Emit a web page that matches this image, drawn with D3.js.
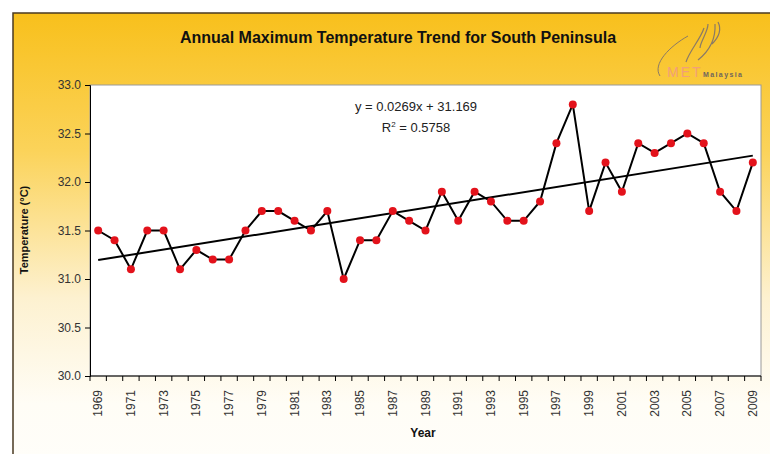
<!DOCTYPE html>
<html>
<head>
<meta charset="utf-8">
<script src="https://cdn.jsdelivr.net/npm/d3@7"></script>
<style>
  body { margin: 0; background: #fff; }
  svg { display: block; font-family: "Liberation Sans", Arial, sans-serif; }
</style>
</head>
<body>
<svg width="770" height="454"></svg>
<script>
// years on the category axis
var years = d3.range(1969, 2010);
// annual maximum temperature
var temps = [31.5, 31.4, 31.1, 31.5, 31.5, 31.1, 31.3, 31.2, 31.2, 31.5,
             31.7, 31.7, 31.6, 31.5, 31.7, 31.0, 31.4, 31.4, 31.7, 31.6,
             31.5, 31.9, 31.6, 31.9, 31.8, 31.6, 31.6, 31.8, 32.4, 32.8,
             31.7, 32.2, 31.9, 32.4, 32.3, 32.4, 32.5, 32.4, 31.9, 31.7, 32.2];
var yTicks = [30.0, 30.5, 31.0, 31.5, 32.0, 32.5, 33.0];
// linear trend printed on the chart (x = 1..41)
var slope = 0.0269, intercept = 31.169, r2 = "0.5758";

window.onload = function(){
	var svg = d3.select('svg');
	var left = 90, right = 761, top = 85, bottom = 376;

	// background gradient
	var defs = svg.append('defs');
	var grad = defs.append('linearGradient').attr('id', 'bg')
		.attr('x1', 0).attr('y1', 0).attr('x2', 0).attr('y2', 1);
	grad.append('stop').attr('offset', '0%').attr('stop-color', '#f8c01c');
	grad.append('stop').attr('offset', '30%').attr('stop-color', '#fbd35a');
	grad.append('stop').attr('offset', '62%').attr('stop-color', '#fdf1d0');
	grad.append('stop').attr('offset', '85%').attr('stop-color', '#fffdf6');
	grad.append('stop').attr('offset', '100%').attr('stop-color', '#fffefa');

	svg.append('rect')
		.attr('x', 13).attr('y', 13).attr('width', 780).attr('height', 460)
		.style('fill', 'url(#bg)')
		.style('stroke', '#4a3a22').style('stroke-width', 1.5);

	// title
	svg.append('text')
		.attr('x', 398).attr('y', 43)
		.attr('text-anchor', 'middle')
		.style('font-size', '16px').style('font-weight', 'bold')
		.style('fill', '#111')
		.text('Annual Maximum Temperature Trend for South Peninsula');

	// MET Malaysia logo
	var logo = svg.append('g').style('fill', 'none');
	logo.append('path').attr('d', 'M660,76 C652,64 670,46 688,36')
		.style('stroke', '#8a7a66').style('stroke-width', 1);
	logo.append('path').attr('d', 'M686,62 C690,50 700,40 704,28 M700,48 C700,42 708,32 708,24')
		.style('stroke', '#8a7a66').style('stroke-width', 1.2);
	logo.append('path').attr('d', 'M698,60 C708,52 716,40 715,24 M712,44 C718,38 722,30 718,22')
		.style('stroke', '#8a7a66').style('stroke-width', 1.2);
	svg.append('text').attr('x', 667).attr('y', 77)
		.style('font-size', '14px').style('fill', '#f2a078')
		.style('letter-spacing', '2px').text('MET');
	svg.append('text').attr('x', 703).attr('y', 77)
		.style('font-size', '7px').style('font-weight', 'bold')
		.style('fill', '#6f665e').style('letter-spacing', '1.4px').text('Malaysia');

	// scales
	var x = d3.scaleBand().domain(years).range([left, right]);
	var y = d3.scaleLinear().domain([30, 33]).range([bottom, top]);

	// plot area
	svg.append('rect')
		.attr('x', left).attr('y', top)
		.attr('width', right - left).attr('height', bottom - top)
		.style('fill', '#fff').style('stroke', '#999').style('stroke-width', 1);

	// y axis
	var yAxis = svg.append('g')
		.attr('transform', 'translate(' + left + ',0)')
		.call(d3.axisLeft(y).tickValues(yTicks).tickFormat(d3.format('.1f')).tickSizeOuter(0).tickSize(5));
	yAxis.selectAll('text').style('font-size', '12px').style('fill', '#333')
		.style('font-family', '"Liberation Sans", Arial, sans-serif').attr('x', -9);
	yAxis.selectAll('line, path').style('stroke', '#000');

	// x axis with ticks between categories
	var xg = svg.append('g').attr('transform', 'translate(0,' + bottom + ')');
	xg.append('line').attr('x1', left).attr('x2', right).style('stroke', '#000');
	xg.selectAll('line.tk')
		.data(years.concat([2010]))
		.enter().append('line').attr('class', 'tk')
		.attr('x1', function(d){ return d === 2010 ? right : x(d) })
		.attr('x2', function(d){ return d === 2010 ? right : x(d) })
		.attr('y1', 0).attr('y2', 5)
		.style('stroke', '#000');
	xg.selectAll('text')
		.data(years.filter(function(d){ return d % 2 === 1 }))
		.enter().append('text')
		.attr('transform', function(d){
			return 'translate(' + (x(d) + x.bandwidth() / 2 + 4) + ',14) rotate(-90)' })
		.attr('text-anchor', 'end')
		.style('font-size', '12px').style('fill', '#333')
		.text(function(d){ return d });

	// axis titles
	svg.append('text')
		.attr('transform', 'translate(28,230) rotate(-90)')
		.attr('text-anchor', 'middle')
		.style('font-size', '11px').style('font-weight', 'bold').style('fill', '#111')
		.text('Temperature (°C)');
	svg.append('text')
		.attr('x', 423).attr('y', 437)
		.attr('text-anchor', 'middle')
		.style('font-size', '12px').style('font-weight', 'bold').style('fill', '#111')
		.text('Year');

	var cx = function(d, i){ return x(years[i]) + x.bandwidth() / 2 };

	// data line
	svg.append('path')
		.datum(temps)
		.attr('d', d3.line().x(cx).y(function(d){ return y(d) }))
		.style('fill', 'none').style('stroke', '#000').style('stroke-width', 2);

	// trend line
	var trend = [1, years.length].map(function(n){ return { n: n, v: slope * n + intercept } });
	svg.append('path')
		.datum(trend)
		.attr('d', d3.line()
			.x(function(d){ return x(years[d.n - 1]) + x.bandwidth() / 2 })
			.y(function(d){ return y(d.v) }))
		.style('fill', 'none').style('stroke', '#000').style('stroke-width', 2);

	// markers
	svg.selectAll('circle')
		.data(temps)
		.enter().append('circle')
		.attr('cx', cx)
		.attr('cy', function(d){ return y(d) })
		.attr('r', 4)
		.style('fill', '#e3121b');

	// equation
	svg.append('text').attr('x', 416).attr('y', 111).attr('text-anchor', 'middle')
		.style('font-size', '13px').style('fill', '#222')
		.text('y = ' + slope + 'x + ' + intercept);
	var r = svg.append('text').attr('x', 416).attr('y', 132).attr('text-anchor', 'middle')
		.style('font-size', '13px').style('fill', '#222');
	r.append('tspan').text('R');
	r.append('tspan').attr('dy', -5).style('font-size', '8px').text('2');
	r.append('tspan').attr('dy', 5).text(' = ' + r2);
}
</script>
</body>
</html>
